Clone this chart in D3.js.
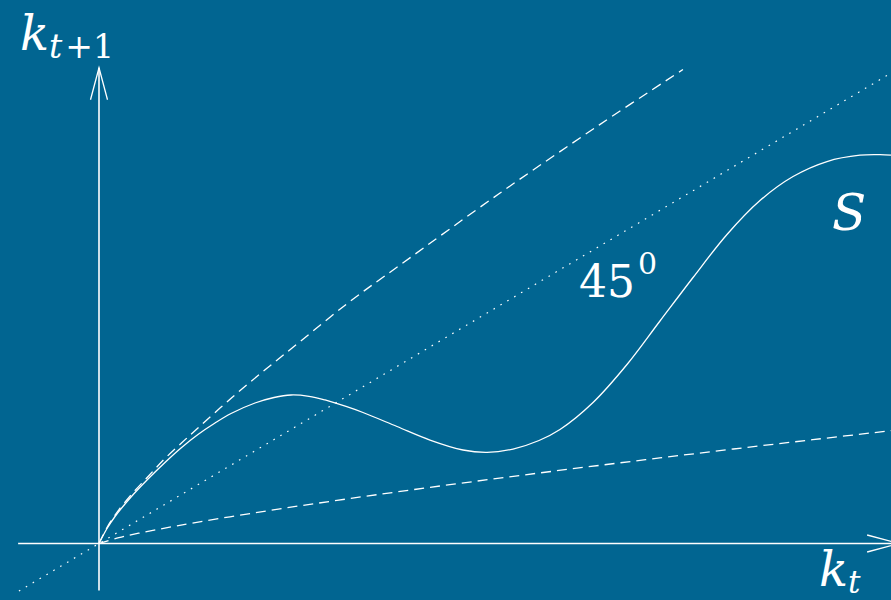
<!DOCTYPE html>
<html>
<head>
<meta charset="utf-8">
<script src="https://cdn.jsdelivr.net/npm/d3@7/dist/d3.min.js"></script>
<style>
  html, body { margin: 0; padding: 0; background: #016591; }
  svg { display: block; }
  .lab { font-family: "DejaVu Serif", serif; fill: #ffffff; }
</style>
</head>
<body>
<svg id="chart" width="891" height="600"></svg>
<script>
// Capital per worker today (k_t) and tomorrow (k_{t+1})

// Upper saving schedule (dashed)
const upperK = [0, 0.101, 0.202, 0.404, 0.631, 0.832, 1.047, 1.261, 1.677, 2.106, 2.522, 3.153, 3.783, 5.044, 6.305, 7.364];
const upperY = [0, 0.340, 0.605, 1.030, 1.444, 1.805, 2.144, 2.473, 3.100, 3.705, 4.268, 5.125, 5.896, 7.425, 8.883, 10.064];

// Lower saving schedule (dashed)
const lowerK = [0, 0.25, 0.5, 1, 2, 3, 4, 5, 6, 7, 8, 9, 10];
const lowerY = [0, 0.125, 0.218, 0.380, 0.662, 0.915, 1.152, 1.377, 1.593, 1.802, 2.006, 2.204, 2.398];

// S-shaped transition curve
const sK = [0, 0.101, 0.202, 0.404, 0.618, 0.832, 1.034, 1.248, 1.463, 1.665, 1.967, 2.207, 2.421,
            2.648, 2.850, 3.115, 3.329, 3.758, 4.174, 4.590, 4.893, 5.221, 5.549, 5.813, 6.230,
            6.658, 7.074, 7.491, 7.919, 8.335, 8.752, 9.180, 9.596, 9.849, 9.987];
const sY = [0, 0.318, 0.573, 0.987, 1.369, 1.720, 2.028, 2.314, 2.558, 2.760, 2.983, 3.100, 3.153,
            3.125, 3.047, 2.909, 2.781, 2.484, 2.197, 1.985, 1.936, 2.006, 2.187, 2.420, 2.994,
            3.800, 4.724, 5.648, 6.561, 7.282, 7.792, 8.110, 8.244, 8.255, 8.244];

// 45-degree reference line k_{t+1} = k_t
const diagK = [-1.01, 10.1];

// Axis extents (data units)
const xAxisExtent = [-1.02, 10.09];
const yAxisExtent = [-1.0, 10.1];

const svg = d3.select("#chart");

const x = d3.scaleLinear().domain([0, 10]).range([99, 892]);
const y = d3.scaleLinear().domain([0, 10]).range([543.5, 72.5]);

const zip = (ks, ys) => ks.map((k, i) => [k, ys[i]]);
const straight = d3.line().x(d => x(d[0])).y(d => y(d[1]));
const smooth = d3.line().x(d => x(d[0])).y(d => y(d[1])).curve(d3.curveCatmullRom.alpha(0.5));

// Axes with open arrowheads
const axisG = svg.append("g")
  .attr("stroke", "#ffffff").attr("stroke-width", 1.6).attr("fill", "none");

axisG.append("line")
  .attr("x1", x(xAxisExtent[0])).attr("y1", y(0))
  .attr("x2", x(xAxisExtent[1])).attr("y2", y(0));
axisG.append("line")
  .attr("x1", x(0)).attr("y1", y(yAxisExtent[0]))
  .attr("x2", x(0)).attr("y2", y(yAxisExtent[1]));

const headLen = 32, headHalf = 8.5;
const xt = [x(xAxisExtent[1]), y(0)];
axisG.append("path").attr("stroke-width", 1.3)
  .attr("d", `M${xt[0] - headLen},${xt[1] - headHalf} L${xt[0]},${xt[1]} L${xt[0] - headLen},${xt[1] + headHalf}`);
const yt = [x(0), y(yAxisExtent[1])];
axisG.append("path").attr("stroke-width", 1.3)
  .attr("d", `M${yt[0] - headHalf},${yt[1] + headLen} L${yt[0]},${yt[1]} L${yt[0] + headHalf},${yt[1] + headLen}`);

// 45-degree line (dotted)
svg.append("path")
  .attr("d", straight(diagK.map(k => [k, k])))
  .attr("fill", "none").attr("stroke", "#ffffff")
  .attr("stroke-width", 1.2).attr("stroke-dasharray", "1.6,6.4");

// Saving schedules (dashed)
svg.append("path")
  .attr("d", smooth(zip(upperK, upperY)))
  .attr("fill", "none").attr("stroke", "#ffffff")
  .attr("stroke-width", 1.3).attr("stroke-dasharray", "10,6");
svg.append("path")
  .attr("d", smooth(zip(lowerK, lowerY)))
  .attr("fill", "none").attr("stroke", "#ffffff")
  .attr("stroke-width", 1.3).attr("stroke-dasharray", "10,6");

// S curve (solid)
svg.append("path")
  .attr("d", smooth(zip(sK, sY)))
  .attr("fill", "none").attr("stroke", "#ffffff")
  .attr("stroke-width", 1.3);

// Labels
function label(px, py, size) {
  return svg.append("text").attr("class", "lab").attr("x", px).attr("y", py)
    .attr("font-size", size);
}

const yLab = label(20, 50, 48);
yLab.append("tspan").attr("font-style", "italic").text("k");
yLab.append("tspan").attr("font-size", 33).attr("dy", 8).attr("font-style", "italic").text("t");
yLab.append("tspan").attr("font-size", 33).attr("dx", 3).text("+1");

const xLab = label(819, 586, 48);
xLab.append("tspan").attr("font-style", "italic").text("k");
xLab.append("tspan").attr("font-size", 31).attr("dy", 7).attr("font-style", "italic").text("t");

label(579, 297, 44).text("45");
label(638, 274, 30).text("0");

label(832, 230, 50).attr("font-style", "italic").text("S");
</script>
</body>
</html>
